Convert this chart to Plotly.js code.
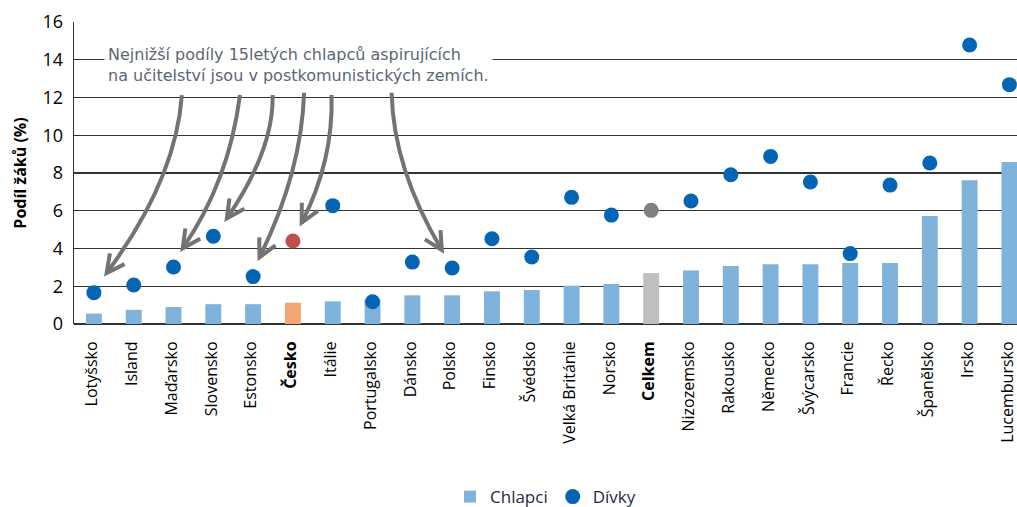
<!DOCTYPE html>
<html>
<head>
<meta charset="utf-8">
<script src="https://cdn.plot.ly/plotly-3.0.1.min.js"></script>
<style>html,body{margin:0;padding:0;background:#fff;}#chart{width:1017px;height:507px;}</style>
</head>
<body>
<div id="chart"></div>
<script>
// Categories (countries)
const countries = ["Lotyšsko","Island","Maďarsko","Slovensko","Estonsko","Česko","Itálie","Portugalsko","Dánsko","Polsko","Finsko","Švédsko","Velká Británie","Norsko","Celkem","Nizozemsko","Rakousko","Německo","Švýcarsko","Francie","Řecko","Španělsko","Irsko","Lucembursko"];
// Boys (bars), percent
const chlapci = [0.55,0.75,0.9,1.05,1.05,1.13,1.2,1.3,1.52,1.52,1.73,1.8,2.03,2.12,2.7,2.84,3.07,3.16,3.16,3.23,3.23,5.72,7.61,8.58];
// Girls (dots), percent
const divky = [1.66,2.07,3.02,4.65,2.51,4.4,6.27,1.18,3.28,2.97,4.52,3.55,6.71,5.77,6.02,6.52,7.91,8.88,7.52,3.73,7.36,8.53,14.78,12.68];
// Tick labels (bold for highlighted categories)
const tickLabels = countries.map(c => (c === "Česko" || c === "Celkem") ? "<b>" + c + "</b>" : c);

const barColors = countries.map(c => c === "Česko" ? "#F4A674" : (c === "Celkem" ? "#BFBFBF" : "#80B3DB"));
const dotColors = countries.map(c => c === "Česko" ? "#C0504D" : (c === "Celkem" ? "#808080" : "#0565B5"));

// Annotation arrows: [start, control, end] in (category index, percent) units
const arrows = [
  [[2.21,12.13],[2.06,7.66],[0.32,2.70]],
  [[3.67,12.13],[3.39,7.54],[2.23,4.01]],
  [[4.49,12.13],[4.52,9.22],[3.34,5.60]],
  [[5.28,12.25],[5.22,8.07],[4.16,3.53]],
  [[5.97,12.13],[6.02,8.63],[5.22,5.37]],
  [[7.48,12.25],[7.52,8.23],[8.74,3.92]]
];

const W = 1017, H = 507, M = {l:74, r:0, t:22, b:183, autoexpand:false};
const xr = [-0.5, 23.19], yr = [0, 16];
const plotW = W - M.l - M.r, plotH = H - M.t - M.b;
const pxX = plotW / (xr[1]-xr[0]), pxY = plotH / (yr[1]-yr[0]);
const toPaper = (x, y) => [((x - xr[0]) / (xr[1]-xr[0])).toFixed(5), ((y - yr[0]) / (yr[1]-yr[0])).toFixed(5)];

const shapes = [];
const arrowLine = {color:'#737373', width:4};
arrows.forEach(a => {
  const [S, C, E] = a;
  const p = pt => toPaper(pt[0], pt[1]);
  const s = p(S), c = p(C), e = p(E);
  shapes.push({type:'path', xref:'paper', yref:'paper', layer:'above',
    path:`M ${s[0]},${s[1]} Q ${c[0]},${c[1]} ${e[0]},${e[1]}`, line:arrowLine});
  // arrowhead
  let dx = (E[0]-C[0])*pxX, dy = (E[1]-C[1])*pxY;
  const n = Math.hypot(dx, dy); dx/=n; dy/=n;
  const L = 20, th = 27*Math.PI/180;
  const arm = sign => {
    const bx = -dx, by = -dy;
    const rx = bx*Math.cos(sign*th) - by*Math.sin(sign*th);
    const ry = bx*Math.sin(sign*th) + by*Math.cos(sign*th);
    return [E[0] + rx*L/pxX, E[1] + ry*L/pxY];
  };
  const a1 = p(arm(1)), a2 = p(arm(-1));
  shapes.push({type:'path', xref:'paper', yref:'paper', layer:'above',
    path:`M ${a1[0]},${a1[1]} L ${e[0]},${e[1]} L ${a2[0]},${a2[1]}`, line:arrowLine});
});

const data = [
  {type:'bar', name:'Chlapci', x:countries, y:chlapci, width:0.4,
   marker:{color:barColors, line:{width:0}}, hoverinfo:'x+y'},
  {type:'scatter', mode:'markers', name:'Dívky', x:countries, y:divky,
   marker:{color:dotColors, size:15, line:{width:0}}, cliponaxis:false}
];

const layout = {
  width:W, height:H, margin:M,
  paper_bgcolor:'#ffffff', plot_bgcolor:'#ffffff',
  font:{family:'Open Sans, sans-serif', color:'#000'},
  showlegend:true,
  legend:{orientation:'h', x:0.5, xanchor:'center', y:-0.573, yanchor:'middle',
    font:{size:17, color:'#1f2a44'}, itemwidth:30, tracegroupgap:0},
  xaxis:{type:'category', range:xr, tickvals:countries, ticktext:tickLabels, automargin:false,
    tickangle:-90, tickfont:{size:16, color:'#000'}, showgrid:false, showline:false,
    ticklabelshift:-2,
    zeroline:false, ticks:'outside', ticklen:10, tickcolor:'rgba(0,0,0,0)', fixedrange:true},
  yaxis:{range:yr, dtick:2, showgrid:true, gridcolor:'#333333', gridwidth:1.4, automargin:false,
    zeroline:true, zerolinecolor:'#333333', zerolinewidth:1.4,
    showline:true, linecolor:'#333333', linewidth:1.4,
    ticks:'', ticklabelstandoff:6, tickfont:{size:18, color:'#000'},
    title:{text:'<b>Podíl žáků (%)</b>', font:{size:16, color:'#000'}, standoff:12}},
  shapes:shapes,
  annotations:[{
    xref:'x', yref:'y', x:0.26, y:13.72, xanchor:'left', yanchor:'middle',
    text:'Nejnižší podíly 15letých chlapců aspirujících<br>na učitelství jsou v postkomunistických zemích.',
    showarrow:false, align:'left', bgcolor:'#ffffff', borderpad:3,
    font:{family:'DejaVu Sans', size:16, color:'#5c6675'}
  }]
};

Plotly.newPlot('chart', data, layout, {displayModeBar:false, staticPlot:true});
</script>
</body>
</html>
